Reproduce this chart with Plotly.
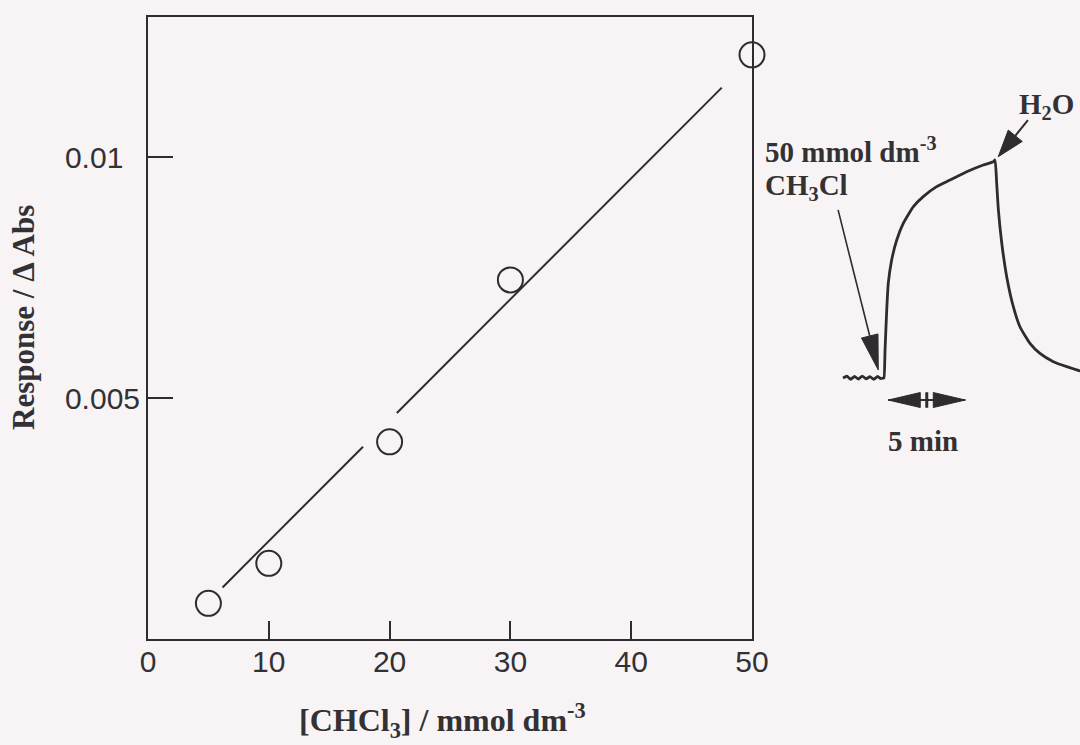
import math
import plotly.graph_objects as go

# ---- calibration data: response vs chloroform concentration ----
conc = [5, 10, 20, 30, 50]                       # mmol dm-3
response = [0.00074, 0.00157, 0.00409, 0.00745, 0.01212]  # delta Abs

# straight line through the points (drawn with a break near 20 mmol dm-3)
fit_slope = 0.0002509
fit_intercept = -0.000478
fit_conc = [6.17, 17.8, None, 20.6, 47.5]

x_ticks = [0, 10, 20, 30, 40, 50]
y_ticks = [0.005, 0.01]
y_ticktext = ["0.005", "0.01\u00a0\u00a0"]

# ---- inset: time course after a 50 mmol dm-3 injection, then water ----
trace_t = [0.0, 0.25, 0.5, 0.75, 1.0, 1.25, 1.5, 1.75, 2.0, 2.25, 2.45, 2.62,
           2.66, 2.73, 2.84, 2.94, 3.16, 3.49, 3.92, 4.57, 5.21, 6.08, 6.95,
           8.03, 9.11, 9.76, 9.87, 9.98, 10.09, 10.31, 10.63, 11.06, 11.49,
           12.14, 12.79, 13.66, 14.53, 15.39, 15.8]
trace_r = [0.0, 0.008, -0.006, 0.007, -0.005, 0.009, -0.004, 0.006, -0.006,
           0.007, -0.003, 0.0, 0.0, 0.128, 0.312, 0.434, 0.541, 0.633, 0.710,
           0.786, 0.832, 0.878, 0.908, 0.946, 0.977, 0.992, 1.0, 0.893, 0.771,
           0.618, 0.465, 0.327, 0.235, 0.159, 0.113, 0.075, 0.052, 0.033,
           0.03]

scale_start = 2.94   # min
scale_len = 5.0      # min

INK = "#2e2c2e"
TXT = "#333133"
BG = "#f8f4f6"
SERIF = "Liberation Serif"
SANS = "Liberation Sans"

# pixel size of one inset unit (used for arrow-head geometry)
PX_T = 15.4
PX_R = 218.0

fig = go.Figure()

fit_y = [None if c is None else fit_intercept + fit_slope * c for c in fit_conc]
fig.add_trace(go.Scatter(x=fit_conc, y=fit_y, mode="lines",
                         line=dict(color=INK, width=2), connectgaps=False,
                         hoverinfo="skip"))
fig.add_trace(go.Scatter(x=conc, y=response, mode="markers",
                         marker=dict(symbol="circle-open", size=25,
                                     color=INK, line=dict(width=2, color=INK)),
                         cliponaxis=False))

# inset recorder trace
fig.add_trace(go.Scatter(x=trace_t, y=trace_r, mode="lines", xaxis="x2",
                         yaxis="y2", line=dict(color=INK, width=2.8,
                                               shape="spline", smoothing=0.5),
                         hoverinfo="skip"))


def arrow(tip, tail, head_len, head_w, width=1.6, shaft=True):
    dx = (tip[0] - tail[0]) * PX_T
    dy = (tip[1] - tail[1]) * PX_R
    n = math.hypot(dx, dy)
    ux, uy = dx / n, dy / n
    base = (tip[0] - ux * head_len / PX_T, tip[1] - uy * head_len / PX_R)
    px_, py_ = -uy * head_w / 2, ux * head_w / 2
    if shaft:
        fig.add_trace(go.Scatter(x=[tail[0], base[0]], y=[tail[1], base[1]],
                                 mode="lines", xaxis="x2", yaxis="y2",
                                 line=dict(color=INK, width=width),
                                 hoverinfo="skip"))
    fig.add_trace(go.Scatter(
        x=[tip[0], base[0] + px_ / PX_T, base[0] - px_ / PX_T, tip[0]],
        y=[tip[1], base[1] + py_ / PX_R, base[1] - py_ / PX_R, tip[1]],
        mode="lines", fill="toself", fillcolor=INK, xaxis="x2", yaxis="y2",
        line=dict(color=INK, width=1), hoverinfo="skip"))


# injection marker and water marker
arrow(tip=(2.29, 0.037), tail=(-0.32, 0.771), head_len=35, head_w=17)
arrow(tip=(10.08, 1.015), tail=(12.01, 1.183), head_len=27, head_w=18, width=2)

# 5 min scale bar
bar_r = -0.101
bar_mid = scale_start + scale_len / 2
fig.add_trace(go.Scatter(x=[scale_start, scale_start + scale_len],
                         y=[bar_r, bar_r], mode="lines", xaxis="x2",
                         yaxis="y2", line=dict(color=INK, width=2),
                         hoverinfo="skip"))
arrow(tip=(scale_start, bar_r), tail=(bar_mid, bar_r), head_len=32, head_w=15,
      shaft=False)
arrow(tip=(scale_start + scale_len, bar_r), tail=(bar_mid, bar_r),
      head_len=32, head_w=15, shaft=False)
fig.add_trace(go.Scatter(x=[bar_mid, bar_mid], y=[bar_r - 0.036, bar_r + 0.036],
                         mode="lines", xaxis="x2", yaxis="y2",
                         line=dict(color=INK, width=3), hoverinfo="skip"))

W, H = 1080, 745


def px(x):
    return x / W


def py(y):
    return 1 - y / H


ann_font = dict(family=SERIF, size=29, color=TXT)
annotations = [
    dict(text="<b>50 mmol dm<sup>-3</sup></b>", x=px(763), y=py(150),
         xanchor="left", yanchor="middle", font=ann_font),
    dict(text="<b>CH<sub>3</sub>Cl</b>", x=px(763), y=py(187),
         xanchor="left", yanchor="middle", font=ann_font),
    dict(text="<b>H<sub>2</sub>O</b>", x=px(1046), y=py(106),
         xanchor="center", yanchor="middle", font=ann_font),
    dict(text="<b>5 min</b>", x=px(923), y=py(441),
         xanchor="center", yanchor="middle", font=ann_font),
    dict(text="<b>Response / \u0394 Abs</b>", x=px(23), y=py(318),
         xanchor="center", yanchor="middle", textangle=-90,
         font=dict(family=SERIF, size=31, color=TXT)),
    dict(text="<b>[CHCl<sub>3</sub>] / mmol dm<sup>-3</sup></b>", x=px(442),
         y=py(720), xanchor="center", yanchor="middle",
         font=dict(family=SERIF, size=32, color=TXT)),
]
for a in annotations:
    a.update(xref="paper", yref="paper", showarrow=False)

axis_common = dict(showline=True, mirror=True, linecolor=INK, linewidth=2,
                   showgrid=False, zeroline=False, ticks="inside",
                   tickcolor=INK, tickwidth=2,
                   tickfont=dict(family=SANS, size=30, color=TXT))

fig.update_layout(
    width=W, height=H,
    margin=dict(l=0, r=0, t=0, b=0, pad=0, autoexpand=False),
    paper_bgcolor=BG, plot_bgcolor=BG, showlegend=False,
    xaxis=dict(domain=[148 / W, 752 / W], range=[0, 50], tickvals=x_ticks,
               ticklen=18, ticklabelstandoff=-5, **axis_common),
    yaxis=dict(domain=[106 / H, 728 / H], range=[0, 0.012905],
               tickvals=y_ticks, ticktext=y_ticktext, ticklen=25,
               **axis_common),
    xaxis2=dict(domain=[827.6 / W, 1.0], range=[-1.0, 15.39], visible=False,
                anchor="y2"),
    yaxis2=dict(domain=[(H - 487) / H, (H - 72.8) / H], range=[-0.5, 1.4],
                visible=False, anchor="x2"),
    annotations=annotations,
)

fig.write_html("out.html")
